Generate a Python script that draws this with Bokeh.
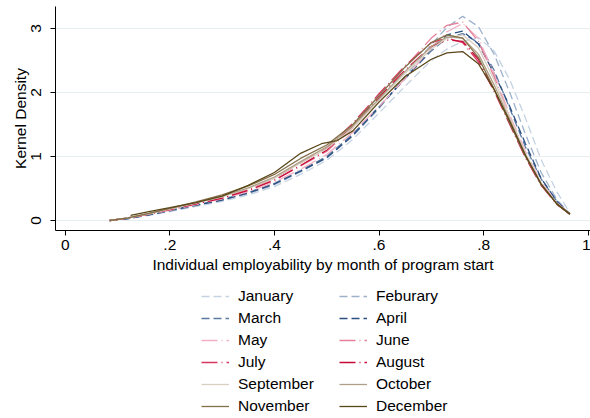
from bokeh.plotting import figure
from bokeh.layouts import column
from bokeh.models import Range1d, FixedTicker, Legend, LegendItem, CustomJSTickFormatter
from bokeh.embed import file_html
from bokeh.resources import INLINE

# ---- data ----
x_grid = [0.085, 0.12, 0.16, 0.2, 0.25, 0.3, 0.35, 0.4, 0.45, 0.5, 0.55, 0.6,
          0.65, 0.7, 0.73, 0.76, 0.79, 0.82, 0.85, 0.88, 0.91, 0.94, 0.965]
x_dec = [0.125, 0.16, 0.2, 0.25, 0.3, 0.35, 0.4, 0.45, 0.49, 0.52, 0.55, 0.6,
         0.65, 0.7, 0.73, 0.76, 0.79, 0.82, 0.85, 0.88, 0.91, 0.94, 0.965]

jan = [0, 0.03, 0.08, 0.14, 0.22, 0.30, 0.40, 0.53, 0.72, 0.94, 1.27, 1.68,
       2.10, 2.50, 2.68, 2.80, 2.86, 2.65, 2.20, 1.60, 0.95, 0.45, 0.12]
feb = [0, 0.03, 0.09, 0.15, 0.23, 0.32, 0.42, 0.56, 0.76, 0.98, 1.32, 1.75,
       2.25, 2.75, 3.02, 3.19, 3.03, 2.60, 2.00, 1.35, 0.75, 0.33, 0.10]
mar = [0, 0.03, 0.09, 0.15, 0.24, 0.33, 0.44, 0.58, 0.78, 1.00, 1.35, 1.78,
       2.22, 2.65, 2.85, 2.92, 2.78, 2.35, 1.75, 1.15, 0.65, 0.30, 0.10]
apr = [0, 0.03, 0.09, 0.16, 0.24, 0.32, 0.43, 0.57, 0.77, 0.98, 1.33, 1.77,
       2.22, 2.68, 2.90, 2.96, 2.76, 2.30, 1.78, 1.20, 0.66, 0.30, 0.10]
may = [0, 0.04, 0.10, 0.16, 0.25, 0.34, 0.45, 0.60, 0.80, 1.03, 1.38, 1.78,
       2.22, 2.70, 2.95, 3.08, 2.85, 2.30, 1.65, 1.08, 0.60, 0.28, 0.10]
jun = [0, 0.04, 0.10, 0.17, 0.26, 0.35, 0.47, 0.63, 0.85, 1.08, 1.45, 1.90,
       2.40, 2.85, 3.05, 3.10, 2.80, 2.25, 1.60, 1.03, 0.57, 0.26, 0.10]
jul = [0, 0.04, 0.10, 0.18, 0.27, 0.37, 0.49, 0.66, 0.90, 1.13, 1.52, 1.98,
       2.42, 2.78, 2.85, 2.78, 2.48, 2.02, 1.50, 0.98, 0.55, 0.25, 0.10]
aug = [0, 0.04, 0.10, 0.17, 0.26, 0.35, 0.47, 0.63, 0.86, 1.10, 1.48, 1.92,
       2.35, 2.72, 2.82, 2.80, 2.52, 2.05, 1.52, 1.00, 0.56, 0.26, 0.10]
sep = [0, 0.04, 0.10, 0.18, 0.27, 0.37, 0.50, 0.66, 0.90, 1.12, 1.45, 1.88,
       2.30, 2.68, 2.85, 2.90, 2.70, 2.20, 1.62, 1.05, 0.58, 0.27, 0.10]
oct_ = [0, 0.04, 0.11, 0.19, 0.28, 0.38, 0.51, 0.68, 0.92, 1.15, 1.48, 1.90,
        2.33, 2.72, 2.87, 2.85, 2.60, 2.12, 1.57, 1.02, 0.57, 0.26, 0.10]
nov = [0, 0.04, 0.11, 0.19, 0.29, 0.40, 0.54, 0.72, 0.97, 1.18, 1.50, 1.95,
       2.40, 2.78, 2.90, 2.85, 2.55, 2.05, 1.52, 1.00, 0.56, 0.26, 0.10]
dec = [0.08, 0.14, 0.20, 0.28, 0.38, 0.55, 0.75, 1.05, 1.20, 1.25, 1.40, 1.85,
       2.25, 2.52, 2.62, 2.64, 2.45, 2.05, 1.55, 1.02, 0.57, 0.26, 0.10]

month_names = ["January", "Feburary", "March", "April", "May", "June", "July",
               "August", "September", "October", "November", "December"]
month_values = [jan, feb, mar, apr, may, jun, jul, aug, sep, oct_, nov, dec]
month_x = [x_grid] * 11 + [x_dec]

x_ticks = [0, 0.2, 0.4, 0.6, 0.8, 1]
y_ticks = [0, 1, 2, 3]
x_title = "Individual employability by month of program start"
y_title = "Kernel Density"

# ---- styles ----
colors = ["#c5d2e2", "#9db2ca", "#5a7aa2", "#2a4f80",
          "#f1b0c3", "#e6809a", "#d6375f", "#c80a38",
          "#d8cfc1", "#ae9f86", "#84704a", "#5a4718"]
dashes = ["8 4"] * 4 + ["16 4 1 4"] * 4 + ["solid"] * 4
FONT = "Liberation Sans"
FS = "15.5px"

p = figure(width=590, height=280, output_backend="svg", toolbar_location=None,
           x_range=Range1d(-0.0186, 1.0044), y_range=Range1d(-0.156, 3.344),
           min_border_left=55, min_border_right=0, min_border_top=6,
           min_border_bottom=50)
p.outline_line_color = None
p.background_fill_color = "white"
p.border_fill_color = "white"

for xs, ys, c, d in zip(month_x, month_values, colors, dashes):
    p.line(xs, ys, line_color=c, line_width=1.3, line_dash=d)

# axes
p.xaxis.ticker = FixedTicker(ticks=x_ticks)
p.xaxis.formatter = CustomJSTickFormatter(code="""
  if (tick == 0) return "0"; if (tick == 1) return "1";
  return tick.toFixed(1).replace(/^0/, "");""")
p.yaxis.ticker = FixedTicker(ticks=y_ticks)
p.xaxis.axis_label = x_title
p.yaxis.axis_label = y_title
for ax in (p.xaxis, p.yaxis):
    ax.axis_line_color = "black"
    ax.axis_line_width = 1
    ax.major_tick_line_color = "black"
    ax.minor_tick_line_color = None
    ax.major_tick_in = 0
    ax.major_tick_out = 5
    ax.major_label_text_font = FONT
    ax.major_label_text_font_size = FS
    ax.major_label_text_color = "black"
    ax.axis_label_text_font = FONT
    ax.axis_label_text_font_size = FS
    ax.axis_label_text_font_style = "normal"
    ax.axis_label_text_color = "black"
p.xaxis.major_label_standoff = 4
p.xaxis.axis_label_standoff = 3
p.yaxis.major_label_orientation = "vertical"
p.yaxis.major_label_standoff = 9
p.yaxis.axis_label_standoff = 0

p.xgrid.grid_line_color = None
p.ygrid.grid_line_color = "#e6eef1"
p.ygrid.grid_line_width = 1

# legend panel below the plot: two columns, row-major order as in reference.
# The same series are drawn here outside the visible y-range, only to feed the legend.
lg = figure(width=590, height=138, output_backend="svg", toolbar_location=None,
            x_axis_type=None, y_axis_type=None, min_border=0,
            x_range=Range1d(0, 1), y_range=Range1d(100, 101))
lg.outline_line_color = None
lg.grid.grid_line_color = None
items = []
for name, xs, ys, c, d in zip(month_names, month_x, month_values, colors, dashes):
    r = lg.line(xs, ys, line_color=c, line_width=1.3, line_dash=d)
    items.append(LegendItem(label=name, renderers=[r]))

leg_common = dict(label_text_font=FONT, label_text_font_size=FS,
                  label_text_color="black", glyph_width=28, glyph_height=20,
                  label_height=20, label_standoff=9, spacing=2,
                  padding=0, margin=0, border_line_color=None,
                  background_fill_alpha=0)
lg.add_layout(Legend(items=items[0::2], location=(146, 2), **leg_common), "center")
lg.add_layout(Legend(items=items[1::2], location=(284, 2), **leg_common), "center")

layout = column(p, lg, spacing=0)
open("out.html", "w").write(file_html(layout, INLINE))
